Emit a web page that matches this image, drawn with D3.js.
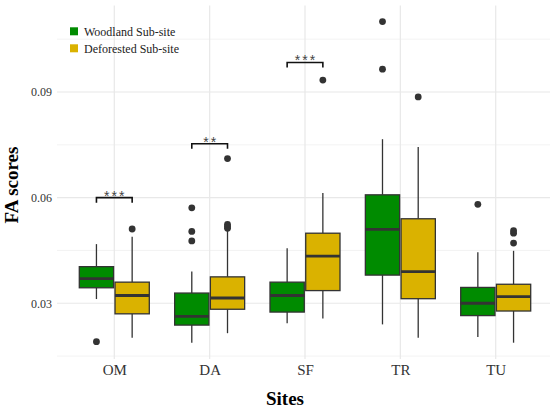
<!DOCTYPE html>
<html><head><meta charset="utf-8">
<script src="https://cdn.jsdelivr.net/npm/d3@7"></script>
<style>body{margin:0;background:#fff}svg{display:block}</style>
</head><body>
<svg id="c" width="550" height="415"></svg>
<script>
const sites = ["OM","DA","SF","TR","TU"];
const groups = ["Woodland Sub-site","Deforested Sub-site"];
// [lower whisker, Q1, median, Q3, upper whisker]
const woodlandStats = [
  [0.0312,0.0344,0.0370,0.0404,0.0468],
  [0.0188,0.0238,0.0263,0.0329,0.0390],
  [0.0243,0.0275,0.0322,0.0360,0.0456],
  [0.0240,0.0380,0.0510,0.0608,0.0766],
  [0.0204,0.0265,0.0300,0.0345,0.0445]
];
const deforestedStats = [
  [0.0202,0.0270,0.0322,0.0360,0.0489],
  [0.0215,0.0283,0.0315,0.0375,0.0508],
  [0.0257,0.0336,0.0434,0.0499,0.0613],
  [0.0202,0.0313,0.0390,0.0540,0.0744],
  [0.0188,0.0278,0.0319,0.0354,0.0449]
];
const woodlandOutliers = [[0.0191],[0.0571,0.0504,0.0477],[],[0.1100,0.0965],[0.0581]];
const deforestedOutliers = [[0.0511],[0.0513,0.0518,0.0524,0.0711],[0.0934],[0.0886],[0.0471,0.0499,0.0506]];
const sigSites = ["OM","DA","SF"];
const sigLevels = [0.0600,0.0753,0.0984];
const sigLabels = ["***","**","***"];
const yMajorTicks = [0.03,0.06,0.09];
const yMinorTicks = [0.015,0.045,0.075,0.105];
const colors = ["#008b00","#dab200"];

const svg = d3.select("#c");
const panel = {left:57, right:550, top:5.4, bottom:358.9};
const x = d3.scalePoint().domain(sites).range([114.3,495.7]);
const y = d3.scaleLinear().domain([0.0142,0.1146]).range([panel.bottom,panel.top]);
const g = d3.scaleBand().domain(groups).range([-35,35]).paddingInner(0.04);
const font = "'Liberation Serif','Times New Roman',serif";

// grid
svg.append("g").selectAll("line").data(yMinorTicks).join("line")
  .attr("x1",panel.left).attr("x2",panel.right)
  .attr("y1",d=>y(d)).attr("y2",d=>y(d))
  .attr("stroke","#f0f0f0").attr("stroke-width",0.8);
svg.append("g").selectAll("line").data(yMajorTicks).join("line")
  .attr("x1",panel.left).attr("x2",panel.right)
  .attr("y1",d=>y(d)).attr("y2",d=>y(d))
  .attr("stroke","#e8e8e8").attr("stroke-width",1.2);
svg.append("g").selectAll("line").data(sites).join("line")
  .attr("x1",d=>x(d)).attr("x2",d=>x(d))
  .attr("y1",panel.top).attr("y2",panel.bottom)
  .attr("stroke","#e8e8e8").attr("stroke-width",1.2);

// axes text
const yAxis = d3.axisLeft(y).tickValues(yMajorTicks).tickSize(0).tickPadding(5).tickFormat(d3.format(".2f"));
const ya = svg.append("g").attr("transform",`translate(${panel.left},0)`).call(yAxis);
ya.select(".domain").remove();
ya.selectAll("text").attr("font-family",font).attr("font-size",12).attr("fill","#333");
const xAxis = d3.axisBottom(x).tickSize(0).tickPadding(5);
const xa = svg.append("g").attr("transform",`translate(0,${panel.bottom})`).call(xAxis);
xa.select(".domain").remove();
xa.selectAll("text").attr("font-family",font).attr("font-size",15).attr("fill","#333");

svg.append("text").attr("x",285).attr("y",405).attr("text-anchor","middle")
  .attr("font-family",font).attr("font-weight","bold").attr("font-size",19).text("Sites");
svg.append("text").attr("transform","translate(18,185) rotate(-90)").attr("text-anchor","middle")
  .attr("font-family",font).attr("font-weight","bold").attr("font-size",19).text("FA scores");

// boxes
const allStats = [woodlandStats, deforestedStats];
const allOut = [woodlandOutliers, deforestedOutliers];
const bw = g.bandwidth();
groups.forEach((grp,gi)=>{
  const layer = svg.append("g");
  sites.forEach((s,si)=>{
    const st = allStats[gi][si];
    const cx = x(s) + g(grp) + bw/2;
    const b = layer.append("g");
    b.append("line").attr("x1",cx).attr("x2",cx).attr("y1",y(st[4])).attr("y2",y(st[3]))
      .attr("stroke","#333").attr("stroke-width",1.3);
    b.append("line").attr("x1",cx).attr("x2",cx).attr("y1",y(st[1])).attr("y2",y(st[0]))
      .attr("stroke","#333").attr("stroke-width",1.3);
    b.append("rect").attr("x",cx-bw/2).attr("width",bw)
      .attr("y",y(st[3])).attr("height",y(st[1])-y(st[3]))
      .attr("fill",colors[gi]).attr("stroke","#333").attr("stroke-width",1.3);
    b.append("line").attr("x1",cx-bw/2).attr("x2",cx+bw/2).attr("y1",y(st[2])).attr("y2",y(st[2]))
      .attr("stroke","#333").attr("stroke-width",2.8);
    b.selectAll("circle").data(allOut[gi][si]).join("circle")
      .attr("cx",cx).attr("cy",d=>y(d)).attr("r",3.4).attr("fill","#333");
  });
});

// significance brackets
sigSites.forEach((s,i)=>{
  const x1 = x(s)+g(groups[0])+bw/2, x2 = x(s)+g(groups[1])+bw/2, yy = y(sigLevels[i]);
  svg.append("path").attr("d",`M${x1},${yy+5}V${yy}H${x2}V${yy+5}`)
    .attr("fill","none").attr("stroke","#111").attr("stroke-width",1.6);
  svg.append("text").attr("x",(x1+x2)/2).attr("dx",1).attr("y",yy+3).attr("text-anchor","middle")
    .attr("font-family","'Liberation Sans',Arial,sans-serif").attr("font-size",14)
    .attr("letter-spacing","2px").attr("fill","#444").text(sigLabels[i]);
});

// legend
const leg = svg.append("g");
groups.forEach((grp,gi)=>{
  leg.append("rect").attr("x",70).attr("y",27.3+gi*17).attr("width",8).attr("height",8).attr("fill",colors[gi]);
  leg.append("text").attr("x",84).attr("y",35.5+gi*17).attr("font-family",font).attr("font-size",12)
    .attr("fill","#222").text(grp);
});
</script>
</body></html>
